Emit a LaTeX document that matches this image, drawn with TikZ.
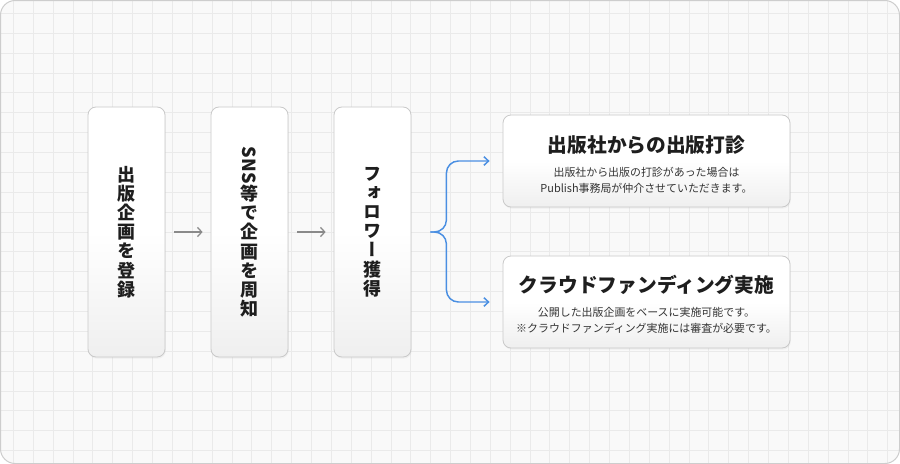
\documentclass[tikz,border=0pt]{standalone}
\usepackage{fontspec}
\setmainfont{Noto Sans CJK JP}
\newfontfamily\vertjp{Noto Sans CJK JP}[RawFeature=+vert]
\usepackage{graphicx}
\usetikzlibrary{positioning,arrows.meta,shadows}
\definecolor{bgcol}{HTML}{F9F9F9}
\definecolor{gridcol}{HTML}{EAEAEA}
\definecolor{framecol}{HTML}{CDCDCD}
\definecolor{boxline}{HTML}{C9C9C9}
\definecolor{boxlow}{HTML}{EFEFEF}
\definecolor{txtcol}{HTML}{1E1E1E}
\definecolor{subcol}{HTML}{333333}
\definecolor{stepgray}{HTML}{8A8A8A}
\definecolor{branchblue}{HTML}{4A8FE2}
\tikzset{
  card/.style={draw=boxline,line width=0.6pt,rounded corners=6pt,
    top color=white,bottom color=boxlow,middle color=white,
    drop shadow={shadow xshift=0.6pt,shadow yshift=-1.2pt,opacity=0.08}},
  vcard/.style={card,minimum width=57.75pt,minimum height=187.5pt},
  hcard/.style={card,minimum width=215.25pt,minimum height=69pt},
  vlabel/.style={align=center,text=txtcol,
    font=\vertjp\fontsize{13.5pt}{14.4pt}\selectfont\bfseries},
  cardtitle/.style={text=txtcol,font=\fontsize{14.8pt}{17pt}\selectfont\bfseries},
  cardsub/.style={align=center,text=subcol,font=\fontsize{8.2pt}{12pt}\selectfont},
  steparrow/.style={draw=stepgray,line width=0.95pt,
    -{Straight Barb[length=3.2pt,width=7pt]}},
  brancharrow/.style={draw=branchblue,line width=1.1pt,rounded corners=9pt,
    -{Straight Barb[length=3.5pt,width=6.5pt]}}
}
\begin{document}
\begin{tikzpicture}[x=0.75pt,y=-0.75pt]
\useasboundingbox (0,0) rectangle (900,464);
% background and grid
\begin{scope}
\clip[rounded corners=11pt] (0.5,0.5) rectangle (899.5,463.5);
\fill[bgcol] (0,0) rectangle (900,464);
\foreach \i in {0,...,45}
	\draw[gridcol,line width=0.5pt] ({13.3+19.87*\i},0) -- ++(0,464);
\foreach \j in {0,...,23}
	\draw[gridcol,line width=0.5pt] (0,{13.3+19.87*\j}) -- ++(900,0);
\end{scope}
\draw[framecol,line width=0.75pt,rounded corners=11pt] (0.5,0.5) rectangle (899.5,463.5);
% step cards
\node[vcard] (reg) at (126.5,232) {};
\node[vcard] (sns) at (249.5,232) {};
\node[vcard] (fol) at (372.5,232) {};
\node[vlabel] (regT) at (reg.center) {出\\版\\企\\画\\を\\登\\録};
\node[vlabel] (snsT) at (sns.center) {\rotatebox[origin=c]{-90}{SNS}\\等\\で\\企\\画\\を\\周\\知};
\node[vlabel] (folT) at (fol.center) {フ\\ォ\\ロ\\ワ\\ー\\獲\\得};
\draw[steparrow,shorten <=6.75pt,shorten >=6pt] (reg) -- (sns);
\draw[steparrow,shorten <=6.75pt,shorten >=6pt] (sns) -- (fol);
% result cards
\node[hcard] (offer) at (646.5,161) {};
\node[hcard] (crowd) at (646.5,302) {};
\node[cardtitle] (offerT) at ([yshift=-22.5pt]offer.north) {出版社からの出版打診};
\node[cardsub] (offerS) at ([yshift=-49.5pt]offer.north) {出版社から出版の打診があった場合は\\Publish事務局が仲介させていただきます。};
\node[cardtitle] (crowdT) at ([yshift=-21.75pt]crowd.north) {クラウドファンディング実施};
\node[cardsub] (crowdS) at ([yshift=-48.4pt]crowd.north) {公開した出版企画をベースに実施可能です。\\※クラウドファンディング実施には審査が必要です。};
% branch
\coordinate (tip) at ([xshift=14.25pt]fol.east);
\coordinate (mid) at ([xshift=12pt]tip);
\coordinate (offerE) at ([xshift=-9.75pt]offer.west);
\coordinate (crowdE) at ([xshift=-9.75pt]crowd.west);
\draw[brancharrow] (tip) -| (mid |- offerE) -- (offerE);
\draw[brancharrow] (tip) -| (mid |- crowdE) -- (crowdE);
\end{tikzpicture}
\end{document}
